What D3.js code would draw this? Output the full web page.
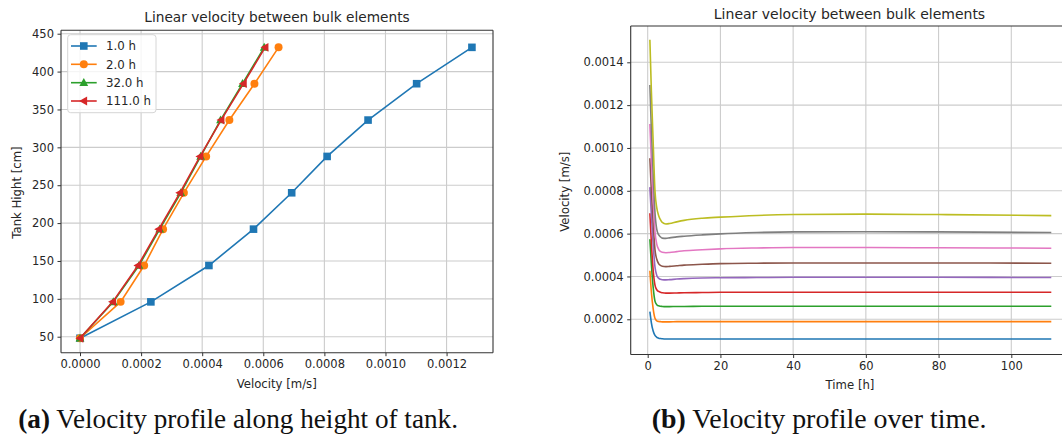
<!DOCTYPE html>
<html>
<head>
<meta charset="utf-8">
<script src="https://cdn.jsdelivr.net/npm/d3@7"></script>
<style>
  body { margin: 0; background: #fff; }
  svg { display: block; }
  text { font-family: "DejaVu Sans", sans-serif; fill: #262626; }
  .cap { font-family: "Liberation Serif", "DejaVu Serif", serif; fill: #111; }
</style>
</head>
<body>
<svg id="chart" width="1062" height="441"></svg>
<script>
// ---- (a) velocity profile along the tank height ----
const heights = [48, 96, 144, 192, 240, 288, 336, 384, 432];           // cm
const profileLabels = ["1.0 h", "2.0 h", "32.0 h", "111.0 h"];
const profile1h   = [0, 0.000232, 0.000422, 0.000568, 0.000693, 0.000809, 0.000943, 0.001102, 0.001283];
const profile2h   = [0, 0.000133, 0.000210, 0.000272, 0.000340, 0.000413, 0.000489, 0.000571, 0.000650];
const profile32h  = [0, 0.000109, 0.000193, 0.000261, 0.000330, 0.000395, 0.000460, 0.000532, 0.000603];
const profile111h = [0, 0.000107, 0.000190, 0.000258, 0.000327, 0.000393, 0.000462, 0.000535, 0.000606];
const profileXTicks = [0, 0.0002, 0.0004, 0.0006, 0.0008, 0.0010, 0.0012];
const profileYTicks = [50, 100, 150, 200, 250, 300, 350, 400, 450];

// ---- (b) velocity of each bulk element over time ----
const times = [0.6, 1, 1.5, 2, 2.5, 3, 3.5, 4, 5, 6, 8, 10, 15, 20, 30, 40, 60, 80, 111]; // h
const elem1 = [2.36e-4, 1.85e-4, 1.45e-4, 1.25e-4, 1.16e-4, 1.12e-4, 1.10e-4, 1.09e-4, 1.08e-4, 1.08e-4, 1.08e-4, 1.08e-4, 1.08e-4, 1.08e-4, 1.08e-4, 1.08e-4, 1.08e-4, 1.08e-4, 1.08e-4];
const elem2 = [4.27e-4, 3.30e-4, 2.50e-4, 2.05e-4, 1.93e-4, 1.90e-4, 1.89e-4, 1.88e-4, 1.88e-4, 1.88e-4, 1.89e-4, 1.89e-4, 1.89e-4, 1.89e-4, 1.89e-4, 1.89e-4, 1.89e-4, 1.89e-4, 1.89e-4];
const elem3 = [5.74e-4, 4.60e-4, 3.50e-4, 2.85e-4, 2.68e-4, 2.63e-4, 2.61e-4, 2.60e-4, 2.59e-4, 2.59e-4, 2.60e-4, 2.60e-4, 2.61e-4, 2.61e-4, 2.61e-4, 2.61e-4, 2.61e-4, 2.61e-4, 2.61e-4];
const elem4 = [6.95e-4, 5.60e-4, 4.30e-4, 3.60e-4, 3.38e-4, 3.30e-4, 3.26e-4, 3.24e-4, 3.22e-4, 3.22e-4, 3.23e-4, 3.24e-4, 3.25e-4, 3.26e-4, 3.26e-4, 3.26e-4, 3.26e-4, 3.26e-4, 3.26e-4];
const elem5 = [8.17e-4, 6.90e-4, 5.50e-4, 4.45e-4, 4.05e-4, 3.92e-4, 3.87e-4, 3.85e-4, 3.84e-4, 3.85e-4, 3.88e-4, 3.90e-4, 3.93e-4, 3.94e-4, 3.95e-4, 3.96e-4, 3.96e-4, 3.96e-4, 3.95e-4];
const elem6 = [9.52e-4, 8.00e-4, 6.50e-4, 5.25e-4, 4.80e-4, 4.60e-4, 4.52e-4, 4.48e-4, 4.46e-4, 4.47e-4, 4.50e-4, 4.53e-4, 4.57e-4, 4.60e-4, 4.62e-4, 4.63e-4, 4.63e-4, 4.63e-4, 4.62e-4];
const elem7 = [11.12e-4, 9.40e-4, 7.60e-4, 6.10e-4, 5.50e-4, 5.27e-4, 5.17e-4, 5.13e-4, 5.11e-4, 5.12e-4, 5.16e-4, 5.20e-4, 5.25e-4, 5.29e-4, 5.33e-4, 5.35e-4, 5.35e-4, 5.34e-4, 5.32e-4];
const elem8 = [12.94e-4, 10.90e-4, 8.80e-4, 7.00e-4, 6.20e-4, 5.95e-4, 5.85e-4, 5.79e-4, 5.78e-4, 5.80e-4, 5.85e-4, 5.88e-4, 5.94e-4, 5.99e-4, 6.05e-4, 6.08e-4, 6.09e-4, 6.08e-4, 6.05e-4];
const elem9 = [15.05e-4, 12.70e-4, 10.30e-4, 8.00e-4, 7.20e-4, 6.85e-4, 6.65e-4, 6.52e-4, 6.45e-4, 6.47e-4, 6.55e-4, 6.62e-4, 6.72e-4, 6.77e-4, 6.85e-4, 6.89e-4, 6.91e-4, 6.89e-4, 6.84e-4];
const timeXTicks = [0, 20, 40, 60, 80, 100];
const timeYTicks = [0.0002, 0.0004, 0.0006, 0.0008, 0.0010, 0.0012, 0.0014];

const tab10 = ["#1f77b4", "#ff7f0e", "#2ca02c", "#d62728", "#9467bd",
               "#8c564b", "#e377c2", "#7f7f7f", "#bcbd22"];

const svg = d3.select("#chart");
const gridColor = "#cccccc";
const spineColor = "#333";
const fmt4 = d3.format(".4f");

function drawGrid(g, xs, ys, xt, yt) {
  const [x0, x1] = xs.range(), [y1, y0] = ys.range();
  g.append("g").selectAll("line").data(xt).join("line")
    .attr("x1", d => xs(d)).attr("x2", d => xs(d))
    .attr("y1", y0).attr("y2", y1)
    .attr("stroke", gridColor).attr("stroke-width", 1.1);
  g.append("g").selectAll("line").data(yt).join("line")
    .attr("x1", x0).attr("x2", x1)
    .attr("y1", d => ys(d)).attr("y2", d => ys(d))
    .attr("stroke", gridColor).attr("stroke-width", 1.1);
}

function drawAxes(g, xs, ys, xt, yt, xfmt, yfmt, rightSpine) {
  const [x0, x1] = xs.range(), [y1, y0] = ys.range();
  const xAxis = d3.axisBottom(xs).tickValues(xt).tickFormat(xfmt).tickSizeOuter(0).tickSize(3.5).tickPadding(3.5);
  const yAxis = d3.axisLeft(ys).tickValues(yt).tickFormat(yfmt).tickSizeOuter(0).tickSize(3.5).tickPadding(3.5);
  const ax = g.append("g").attr("transform", `translate(0,${y1})`).call(xAxis);
  const ay = g.append("g").attr("transform", `translate(${x0},0)`).call(yAxis);
  [ax, ay].forEach(a => {
    a.select(".domain").remove();
    a.selectAll(".tick line").attr("stroke", spineColor).attr("stroke-width", 1);
    a.selectAll(".tick text").attr("font-size", 11.5).attr("fill", "#262626")
      .style("font-family", '"DejaVu Sans", sans-serif');
  });
  // spines
  const sp = g.append("g").attr("stroke", spineColor).attr("stroke-width", 1.1).attr("fill", "none");
  sp.append("line").attr("x1", x0).attr("x2", x0).attr("y1", y0).attr("y2", y1);
  sp.append("line").attr("x1", x0).attr("x2", x1).attr("y1", y1).attr("y2", y1);
  sp.append("line").attr("x1", x0).attr("x2", x1).attr("y1", y0).attr("y2", y0);
  if (rightSpine) sp.append("line").attr("x1", x1).attr("x2", x1).attr("y1", y0).attr("y2", y1);
}

// ================= (a) =================
const ga = svg.append("g");
const xA = d3.scaleLinear().domain([-0.0000622, 0.001352]).range([61, 493]);
const yA = d3.scaleLinear().domain([28.9, 454.5]).range([352.7, 30.3]);

drawGrid(ga, xA, yA, profileXTicks, profileYTicks);

const profiles = [profile1h, profile2h, profile32h, profile111h];
const markerTypes = ["square", "circle", "triangleUp", "triangleLeft"];

function markerPath(type) {
  if (type === "square") return "M-3.8,-3.8H3.8V3.8H-3.8Z";
  if (type === "circle") return d3.symbol(d3.symbolCircle, 50)();
  if (type === "triangleUp") return "M0,-4.6L4.4,3.3L-4.4,3.3Z";
  return "M-4.6,0L3.3,-4.4L3.3,4.4Z";
}

const lineA = d3.line().x(d => xA(d[0])).y(d => yA(d[1]));
profiles.forEach((vals, i) => {
  const pts = vals.map((v, k) => [v, heights[k]]);
  ga.append("path").datum(pts).attr("d", lineA)
    .attr("fill", "none").attr("stroke", tab10[i]).attr("stroke-width", 1.6);
  ga.append("g").selectAll("path").data(pts).join("path")
    .attr("d", markerPath(markerTypes[i]))
    .attr("transform", d => `translate(${xA(d[0])},${yA(d[1])})`)
    .attr("fill", tab10[i]);
});

drawAxes(ga, xA, yA, profileXTicks, profileYTicks, fmt4, d3.format("d"), true);

// legend
const leg = ga.append("g");
leg.append("rect").attr("x", 67.7).attr("y", 34.7).attr("width", 88.3).attr("height", 78)
  .attr("rx", 3).attr("fill", "#fff").attr("fill-opacity", 0.8)
  .attr("stroke", "#d6d6d6").attr("stroke-width", 1);
const legRows = [46, 64.3, 82.7, 101];
profileLabels.forEach((lab, i) => {
  const r = leg.append("g").attr("transform", `translate(0,${legRows[i]})`);
  r.append("line").attr("x1", 71).attr("x2", 96.7).attr("y1", 0).attr("y2", 0)
    .attr("stroke", tab10[i]).attr("stroke-width", 1.6);
  r.append("path").attr("d", markerPath(markerTypes[i]))
    .attr("transform", "translate(83.8,0)").attr("fill", tab10[i]);
  r.append("text").attr("x", 106).attr("y", 4.2).attr("font-size", 11.8).text(lab);
});

ga.append("text").attr("x", 277).attr("y", 21.7).attr("text-anchor", "middle")
  .attr("font-size", 13.7).text("Linear velocity between bulk elements");
ga.append("text").attr("x", 276.7).attr("y", 388).attr("text-anchor", "middle")
  .attr("font-size", 11.7).text("Velocity [m/s]");
ga.append("text").attr("transform", "translate(21.3,192.5) rotate(-90)")
  .attr("text-anchor", "middle").attr("font-size", 11.7).text("Tank Hight [cm]");

// ================= (b) =================
const gb = svg.append("g");
const xB = d3.scaleLinear().domain([-4.675, 117.52]).range([630.7, 1075]);
const yB = d3.scaleLinear().domain([0.0000356, 0.0015695]).range([354.5, 26]);

drawGrid(gb, xB, yB, timeXTicks, timeYTicks);

const elements = [elem1, elem2, elem3, elem4, elem5, elem6, elem7, elem8, elem9];
const lineB = d3.line().x((d, k) => xB(times[k])).y(d => yB(d)).curve(d3.curveMonotoneX);
elements.forEach((vals, i) => {
  gb.append("path").datum(vals).attr("d", lineB)
    .attr("fill", "none").attr("stroke", tab10[i]).attr("stroke-width", 1.6);
});

drawAxes(gb, xB, yB, timeXTicks, timeYTicks, d3.format("d"), fmt4, false);

gb.append("text").attr("x", 849.5).attr("y", 19).attr("text-anchor", "middle")
  .attr("font-size", 14).text("Linear velocity between bulk elements");
gb.append("text").attr("x", 850).attr("y", 389.3).attr("text-anchor", "middle")
  .attr("font-size", 11.7).text("Time [h]");
gb.append("text").attr("transform", "translate(569.3,191.7) rotate(-90)")
  .attr("text-anchor", "middle").attr("font-size", 11.7).text("Velocity [m/s]");

// ================= captions =================
function caption(x, width, tag, body) {
  const t = svg.append("text").attr("class", "cap").attr("x", x).attr("y", 428.3)
    .attr("font-size", 22);
  t.append("tspan").attr("font-weight", "bold").text(tag);
  t.append("tspan").text(" " + body);
  const w = t.node().getComputedTextLength();
  t.attr("font-size", 22 * width / w);
}
caption(18.3, 440, "(a)", "Velocity profile along height of tank.");
caption(651.7, 335, "(b)", "Velocity profile over time.");
</script>
</body>
</html>
